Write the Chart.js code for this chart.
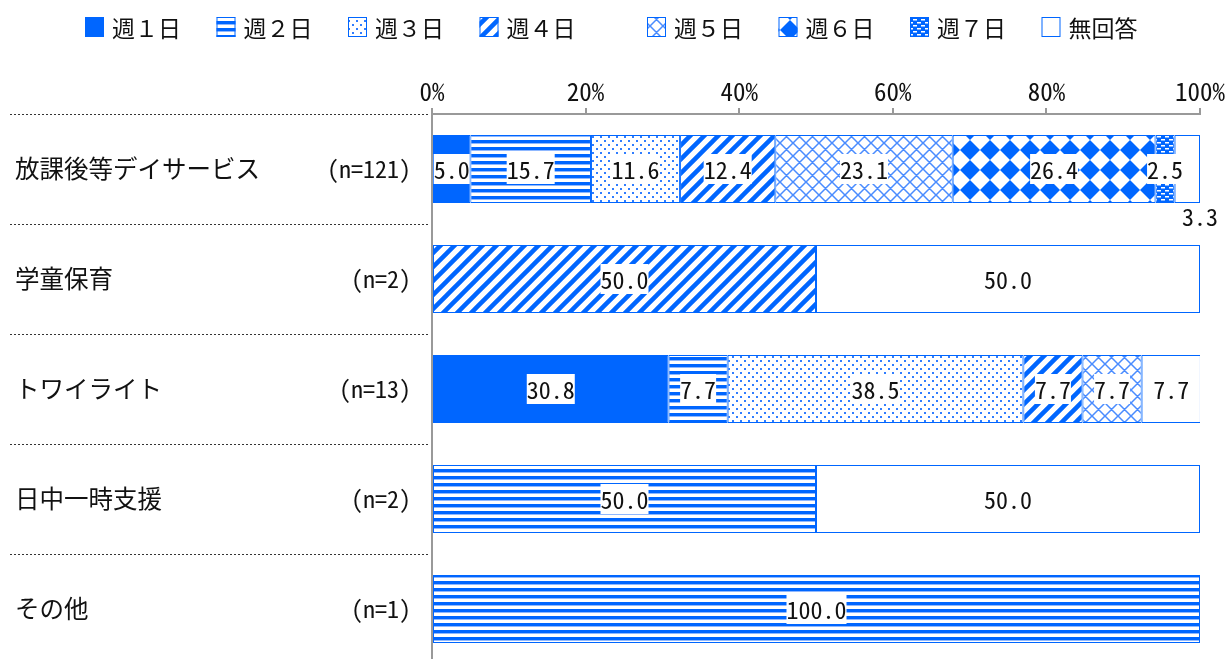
<!DOCTYPE html>
<html>
<head>
<meta charset="utf-8">
<script src="https://cdn.jsdelivr.net/npm/chart.js@4/dist/chart.umd.min.js"></script>
<style>
  html, body { margin: 0; padding: 0; background: #fff; overflow: hidden; }
  #wrap { width: 1228px; height: 659px; overflow: hidden; }
  #box { position: relative; width: 1228px; height: 670px; }
</style>
</head>
<body>
<div id="wrap"><div id="box"><canvas id="chart"></canvas></div></div>
<script>
/* 利用日数の帯グラフ */

const categories = ["放課後等デイサービス", "学童保育", "トワイライト", "日中一時支援", "その他"];
const sampleSizes = ["(n=121)", "(n=2)", "(n=13)", "(n=2)", "(n=1)"];
const seriesNames = ["週１日", "週２日", "週３日", "週４日", "週５日", "週６日", "週７日", "無回答"];
const day1 = [5.0, 0, 30.8, 0, 0];
const day2 = [15.7, 0, 7.7, 50.0, 100.0];
const day3 = [11.6, 0, 38.5, 0, 0];
const day4 = [12.4, 50.0, 7.7, 0, 0];
const day5 = [23.1, 0, 7.7, 0, 0];
const day6 = [26.4, 0, 0, 0, 0];
const day7 = [2.5, 0, 0, 0, 0];
const noAnswer = [3.3, 50.0, 7.7, 50.0, 0];
const xTicks = [0, 20, 40, 60, 80, 100];

const BLUE = "#0066ff";
const MONO = "'Noto Sans Mono CJK JP', 'DejaVu Sans Mono', monospace";
const JP = "'Noto Sans CJK JP', sans-serif";

const canvas = document.getElementById("chart");
const ctx = canvas.getContext("2d");

function tile(w, h, draw, bg = "#fff") {
  const c = document.createElement("canvas");
  c.width = w;
  c.height = h;
  const g = c.getContext("2d");
  g.fillStyle = bg;
  g.fillRect(0, 0, w, h);
  draw(g, w, h);
  return ctx.createPattern(c, "repeat");
}

function diag(g, s, dir) {
  for (const k of [0, s, 2 * s]) {
    if (dir > 0) { g.moveTo(-2, k + 2); g.lineTo(k + 2, -2); }
    else { g.moveTo(-2, k - s - 2); g.lineTo(s + 2, k + 2); }
  }
}

const fills = [
  BLUE,
  tile(6, 7, (g) => {
    g.fillStyle = BLUE; g.fillRect(0, 0, 6, 3);
    g.fillStyle = "#8fb8ff"; g.fillRect(0, 3, 6, 1);
  }),
  tile(8, 8, (g) => {
    g.fillStyle = "#2f7dff";
    g.fillRect(0, 0, 2, 2); g.fillRect(4, 4, 2, 2);
  }),
  tile(14, 14, (g, s) => {
    g.strokeStyle = BLUE; g.lineWidth = 4.5;
    g.beginPath(); diag(g, s, 1); g.stroke();
  }),
  tile(13, 13, (g, s) => {
    g.strokeStyle = "#4a8cff"; g.lineWidth = 1.5;
    g.beginPath(); diag(g, s, 1); diag(g, s, -1); g.stroke();
  }),
  tile(20, 20, (g) => {
    g.fillStyle = BLUE;
    g.beginPath();
    g.moveTo(10, 0); g.lineTo(20, 10); g.lineTo(10, 20); g.lineTo(0, 10);
    g.closePath(); g.fill();
  }),
  tile(8, 6, (g) => {
    g.fillStyle = "#fff";
    g.fillRect(1, 1, 4, 1.5); g.fillRect(5, 4, 4, 1.5); g.fillRect(-3, 4, 4, 1.5);
  }, BLUE),
  "#fff",
];

const seriesData = [day1, day2, day3, day4, day5, day6, day7, noAnswer];

const datasets = seriesNames.map((name, i) => ({
  label: name,
  data: seriesData[i],
  backgroundColor: fills[i],
  borderColor: BLUE,
  borderWidth: 1,
  borderSkipped: false,
  barPercentage: 0.618,
  categoryPercentage: 1,
}));

const legendBoxes = {
  id: "legendBoxes",
  afterDraw(chart) {
    const c = chart.ctx;
    c.save();
    c.font = `23px ${JP}`;
    c.textBaseline = "middle";
    chart.data.datasets.forEach((ds, i) => {
      const x = 85 + i * 131.5 + (i >= 4 ? 36 : 0);
      c.fillStyle = ds.backgroundColor;
      c.fillRect(x, 17, 19, 20);
      c.strokeStyle = ds.borderColor;
      c.lineWidth = 1;
      c.strokeRect(x + 0.5, 17.5, 18, 19);
      c.fillStyle = "#111";
      c.fillText(ds.label, x + 27, 28);
    });
    c.restore();
  },
};

const rowLabels = {
  id: "rowLabels",
  afterDraw(chart) {
    const c = chart.ctx;
    const y = chart.scales.y;
    const band = y.getPixelForValue(1) - y.getPixelForValue(0);
    c.save();
    c.textBaseline = "middle";
    c.fillStyle = "#111";
    categories.forEach((name, i) => {
      const py = y.getPixelForValue(i);
      c.font = `24.5px ${JP}`;
      c.textAlign = "left";
      c.fillText(name, 15, py);
      c.font = `24px ${MONO}`;
      c.textAlign = "right";
      c.fillText(sampleSizes[i], 411, py);
      c.strokeStyle = "#333";
      c.lineWidth = 1;
      c.setLineDash([2, 2]);
      c.beginPath();
      c.moveTo(10, Math.round(py - band / 2) + 0.5);
      c.lineTo(chart.chartArea.left - 2, Math.round(py - band / 2) + 0.5);
      c.stroke();
    });
    c.restore();
  },
};

const valueLabels = {
  id: "valueLabels",
  afterDatasetsDraw(chart) {
    const c = chart.ctx;
    const last = chart.data.datasets.length - 1;
    c.save();
    c.font = `24px ${MONO}`;
    c.textAlign = "center";
    c.textBaseline = "middle";
    chart.data.datasets.forEach((ds, i) => {
      chart.getDatasetMeta(i).data.forEach((bar, j) => {
        const v = ds.data[j];
        if (!v) return;
        const txt = v.toFixed(1);
        const w = c.measureText(txt).width;
        // 細すぎる無回答は棒の右下へ
        if (i === last && Math.abs(bar.x - bar.base) < w) {
          c.fillStyle = "#111";
          c.fillText(txt, bar.x, bar.y + bar.height / 2 + 14);
          return;
        }
        const x = (bar.x + bar.base) / 2;
        c.fillStyle = "#fff";
        c.fillRect(x - w / 2, bar.y - 15, w, 30);
        c.fillStyle = "#111";
        c.fillText(txt, x, bar.y + 1);
      });
    });
    c.restore();
  },
};

new Chart(canvas, {
  type: "bar",
  data: { labels: categories, datasets },
  options: {
    indexAxis: "y",
    responsive: true,
    maintainAspectRatio: false,
    animation: false,
    layout: { padding: { left: 0, right: 28, top: 0, bottom: 6 } },
    plugins: { legend: { display: false }, tooltip: { enabled: false } },
    scales: {
      x: {
        position: "top",
        stacked: true,
        min: 0,
        max: 100,
        afterBuildTicks: (s) => { s.ticks = xTicks.map((v) => ({ value: v })); },
        afterFit: (s) => { s.height = 114; },
        ticks: { callback: (v) => v + "%", color: "#111", font: { family: MONO, size: 25 }, padding: 2, maxRotation: 0 },
        grid: { drawOnChartArea: false, tickLength: 6, color: "#999", lineWidth: 2 },
        border: { display: true, color: "#999", width: 2 },
      },
      y: {
        stacked: true,
        afterFit: (s) => { s.width = 432; },
        ticks: { display: false },
        grid: { display: false },
        border: { display: true, color: "#999", width: 2 },
      },
    },
  },
  plugins: [valueLabels, rowLabels, legendBoxes],
});
</script>
</body>
</html>
